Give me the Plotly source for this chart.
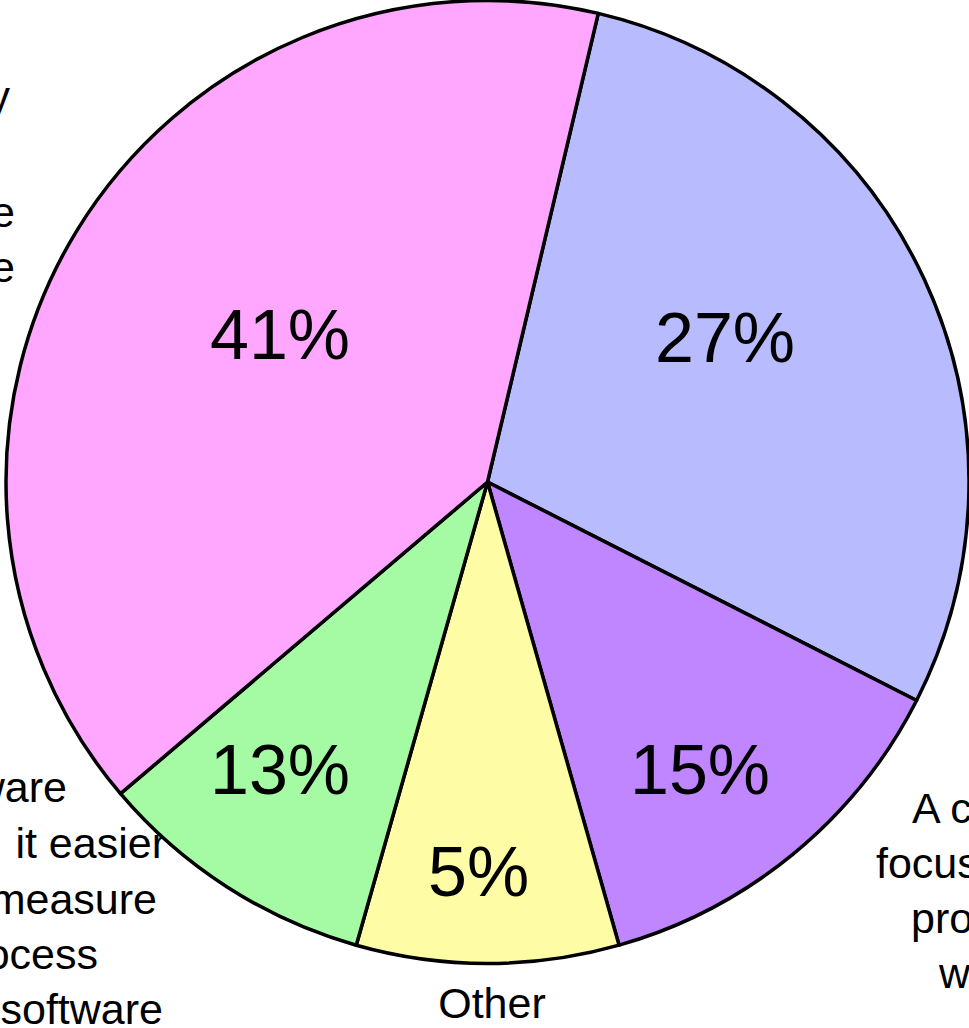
import plotly.graph_objects as go

# ---------------- data ----------------
categories = [
    "Better training on the process",
    "A clear focus on the process within the team",
    "Other",
    "Better tools/software that makes it easier to measure and process quality of software",
    "Management that truly understands the value of a software process and its purpose",
]
# share of the circle taken by each slice (measured from the slice angles)
slice_share = [28.8, 13.1, 8.8, 9.4, 39.9]
# percentage labels printed on the slices
pct_text = ["27%", "15%", "5%", "13%", "41%"]
# category label, broken into the lines shown
label_lines = [
    ["Better training", "on the process"],
    ["A clear", "focus on the", "process", "within the team"],
    ["Other"],
    ["Better tools/software", "that makes\u2002it easier", "to measure", "and process", "quality of software"],
    ["Management that truly", "understands the", "value of a software", "process and its purpose"],
]

# ---------------- styling / placement ----------------
W, H = 969, 1028
colors = ["#B8BCFF", "#C086FF", "#FFFCA6", "#A4FBA4", "#FFA6FF"]
FONT = "Liberation Sans, Arial, sans-serif"

# pie box in page pixels (left, top, right, bottom)
PIE_BOX = (6, 0, 969, 964)

# label placement in page pixels: side the text hangs from, anchor x per line, line centre y per line
label_place = [
    ("middle right", [985, 985], [150, 205]),
    ("middle right", [912, 876, 911, 939], [812, 867, 922, 977]),
    ("middle center", [492], [1007]),
    ("middle left", [67, 166, 157, 98, 163], [791, 847, 903, 958, 1013]),
    ("middle left", [10, -30, 15, 15], [100, 160, 216, 271]),
]
# centre of each percentage label in page pixels
pct_place = [(725, 338), (700, 770), (478, 872), (280, 770), (280, 335)]

txt, tx, ty, tpos = [], [], [], []
for lines, (pos, xs, ys) in zip(label_lines, label_place):
    for line, x, y in zip(lines, xs, ys):
        txt.append(line)
        tx.append(x)
        ty.append(y)
        tpos.append(pos)

fig = go.Figure()

# category labels (drawn underneath the pie)
fig.add_trace(go.Scatter(
    x=tx, y=ty, text=txt, mode="text", textposition=tpos,
    textfont=dict(family=FONT, size=43, color="black"),
    cliponaxis=False, hoverinfo="skip", showlegend=False,
))

fig.add_trace(go.Pie(
    labels=categories,
    values=slice_share,
    text=pct_text,
    textinfo="none",
    sort=False,
    direction="clockwise",
    rotation=13.3,
    marker=dict(colors=colors, line=dict(color="black", width=3.5)),
    hovertemplate="%{label}: %{text}<extra></extra>",
    showlegend=False,
    domain=dict(x=[PIE_BOX[0] / W, PIE_BOX[2] / W],
                y=[1 - PIE_BOX[3] / H, 1 - PIE_BOX[1] / H]),
))

annotations = [
    dict(x=x, y=y, xref="x", yref="y", text=t, showarrow=False,
         xanchor="center", yanchor="middle",
         font=dict(family=FONT, size=70, color="black"))
    for t, (x, y) in zip(pct_text, pct_place)
]

fig.update_layout(
    width=W, height=H,
    margin=dict(l=0, r=0, t=0, b=0, pad=0),
    paper_bgcolor="white", plot_bgcolor="rgba(0,0,0,0)",
    xaxis=dict(range=[0, W], visible=False, fixedrange=True),
    yaxis=dict(range=[H, 0], visible=False, fixedrange=True),
    annotations=annotations,
    showlegend=False,
)

fig.write_html("out.html")
